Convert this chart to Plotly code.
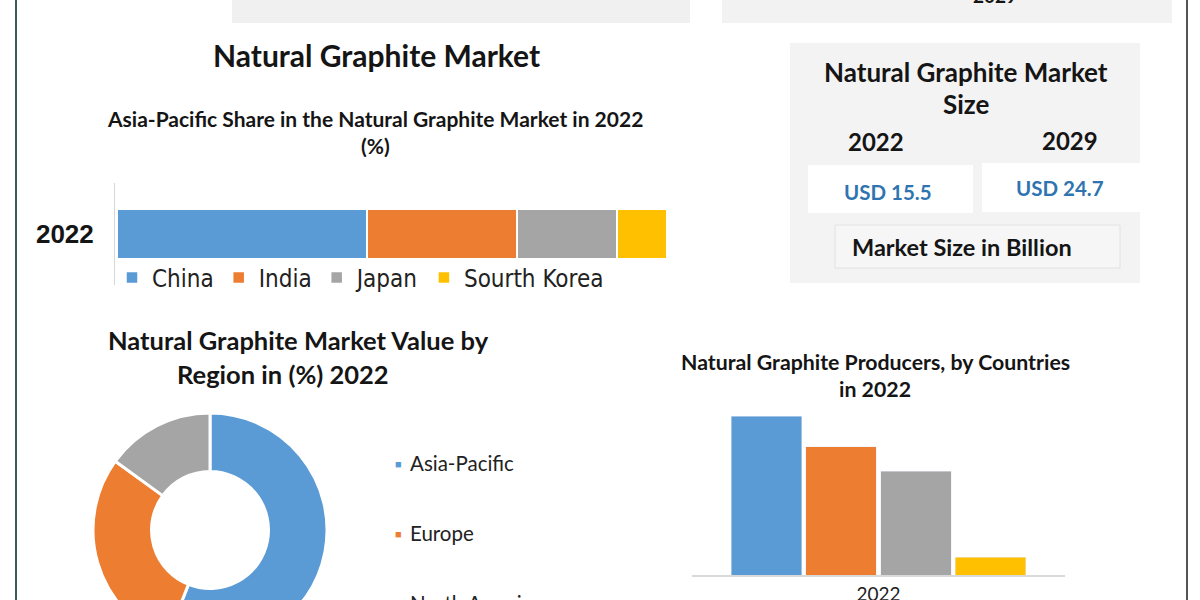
import plotly.graph_objects as go
import numpy as np

# ---------------- data ----------------
share_year = ["2022"]
share_countries = ["China", "India", "Japan", "Sourth Korea"]
share_values = [45, 27, 18, 9]
share_colors = ["#5b9bd5", "#ed7d31", "#a5a5a5", "#ffc000"]

region_labels = ["Asia-Pacific", "Europe", "North America"]
region_values = [56, 29, 15]
region_colors = ["#5b9bd5", "#ed7d31", "#a5a5a5"]

producer_countries = ["China", "Mozambique", "Madagascar", "Brazil"]
producer_values = [850, 685, 555, 95]
producer_colors = ["#5b9bd5", "#ed7d31", "#a5a5a5", "#ffc000"]
producer_year = "2022"

size_years = ["2022", "2029"]
size_values = ["USD 15.5", "USD 24.7"]

W, H = 1200, 660
def px(x): return x / W
def py(y): return 1 - y / H

TITLE_FONT = "Lato, 'Open Sans', sans-serif"
NARROW = "'Liberation Sans Narrow', 'Arial Narrow', 'DejaVu Sans Condensed', sans-serif"
INK = "#151515"

fig = go.Figure()

# stacked horizontal bar
for name, val, col in zip(share_countries, share_values, share_colors):
    fig.add_trace(go.Bar(
        y=share_year, x=[val], name=name, orientation="h",
        marker=dict(color=col, line=dict(color="white", width=1.5)),
        width=0.49, xaxis="x", yaxis="y", hoverinfo="skip",
    ))

# donut
fig.add_trace(go.Pie(
    labels=region_labels, values=region_values, hole=0.5, sort=False,
    direction="clockwise", rotation=0,
    marker=dict(colors=region_colors, line=dict(color="white", width=3)),
    textinfo="none", showlegend=False, hoverinfo="skip",
    domain=dict(x=[px(93), px(327)], y=[py(647), py(413)]),
))

# producers bar chart
fig.add_trace(go.Bar(
    x=producer_countries, y=producer_values,
    marker=dict(color=producer_colors), showlegend=False,
    xaxis="x2", yaxis="y2", hoverinfo="skip",
))

ann = []
def text(t, x, y, size, bold=True, color=INK, family=TITLE_FONT, xanchor="center"):
    ann.append(dict(text=("<b>%s</b>" % t) if bold else t, x=px(x), y=py(y),
                    xref="paper", yref="paper", showarrow=False,
                    xanchor=xanchor, yanchor="middle",
                    font=dict(size=size, color=color, family=family)))

text("Natural Graphite Market", 376, 55, 30)
text("Asia-Pacific Share in the Natural Graphite Market in 2022", 375, 118, 21)
text("(%)", 375, 145, 21)

text("Natural Graphite Market", 966, 72, 26)
text("Size", 966, 104, 26)
text(size_years[0], 876, 142, 24)
text(size_years[1], 1070, 140, 24)
text(size_values[0], 888, 192, 20.5, color="#2f74b0")
text(size_values[1], 1060, 188, 20.5, color="#2f74b0")
text("Market Size in Billion", 962, 247, 23.5)

text("Natural Graphite Market Value by", 298, 340, 25.5)
text("Region in (%) 2022", 283, 374, 25.5)

text("Natural Graphite Producers, by Countries", 875, 362, 21.3)
text("in 2022", 875, 389, 21.3)

text("2029", 995, -4, 19)

# donut legend
for i, (lab, col) in enumerate(zip(region_labels, region_colors)):
    yy = 463 + 70 * i
    text("■", 398, yy, 11, bold=False, color=col)
    text(lab, 408, yy, 20.5, bold=False, color="#222", xanchor="left")

shapes = [
    # top cropped boxes
    dict(type="rect", xref="paper", yref="paper", x0=px(232), x1=px(690), y0=py(23), y1=py(-10),
         fillcolor="#f0f0f0", line=dict(width=0), layer="below"),
    dict(type="rect", xref="paper", yref="paper", x0=px(722), x1=px(1172), y0=py(23), y1=py(-10),
         fillcolor="#f2f2f2", line=dict(width=0), layer="below"),
    # right info panel
    dict(type="rect", xref="paper", yref="paper", x0=px(790), x1=px(1140), y0=py(283), y1=py(43),
         fillcolor="#f3f3f3", line=dict(width=0), layer="below"),
    dict(type="rect", xref="paper", yref="paper", x0=px(808), x1=px(973), y0=py(213), y1=py(165),
         fillcolor="#ffffff", line=dict(width=0), layer="below"),
    dict(type="rect", xref="paper", yref="paper", x0=px(982), x1=px(1140), y0=py(212), y1=py(163),
         fillcolor="#ffffff", line=dict(width=0), layer="below"),
    dict(type="rect", xref="paper", yref="paper", x0=px(835), x1=px(1120), y0=py(268), y1=py(225),
         fillcolor="#f6f6f6", line=dict(width=1, color="#e2e2e2"), layer="below"),
    # page border lines
    dict(type="line", xref="paper", yref="paper", x0=px(16), x1=px(16), y0=0, y1=1,
         line=dict(color="#3d5a5a", width=2)),
    dict(type="line", xref="paper", yref="paper", x0=px(1187), x1=px(1187), y0=0, y1=1,
         line=dict(color="#555555", width=2)),
]

fig.update_layout(
    width=W, height=H, margin=dict(l=0, r=0, t=0, b=0),
    paper_bgcolor="white", plot_bgcolor="rgba(0,0,0,0)",
    barmode="stack", bargap=0.055,
    showlegend=True,
    legend=dict(orientation="h", x=px(112), y=py(278), xanchor="left", yanchor="middle",
                font=dict(family=NARROW, size=24, color="#222"),
                bgcolor="rgba(0,0,0,0)", traceorder="normal", itemclick=False),
    xaxis=dict(domain=[px(115), px(680)], range=[-0.36, 101.3], showgrid=False,
               zeroline=False, showticklabels=False, showline=False, fixedrange=True),
    yaxis=dict(domain=[py(285), py(183)], type="category", showgrid=False, zeroline=False,
               showline=True, linecolor="#d6d6d6", linewidth=1, ticks="",
               ticklabelstandoff=15,
               tickfont=dict(family="'Liberation Sans', Arial, sans-serif", size=26, color=INK),
               tickprefix="<b>", ticksuffix="</b>", fixedrange=True),
    xaxis2=dict(domain=[px(692), px(1065)], type="category", range=[-1, 4],
                anchor="y2", showgrid=False, zeroline=False, showline=True,
                linecolor="#d9d9d9", linewidth=1.5, ticks="", showticklabels=False,
                title=dict(text=producer_year, standoff=12,
                           font=dict(family=TITLE_FONT, size=19, color="#222")),
                fixedrange=True),
    yaxis2=dict(domain=[py(575), py(388)], range=[0, 1000], anchor="x2", visible=False,
                fixedrange=True),
    annotations=ann, shapes=shapes,
)

fig.write_html("out.html", config=dict(displayModeBar=False),
               post_script="document.documentElement.style.overflow='hidden';"
                           "document.body.style.overflow='hidden';document.body.style.margin='0';")
